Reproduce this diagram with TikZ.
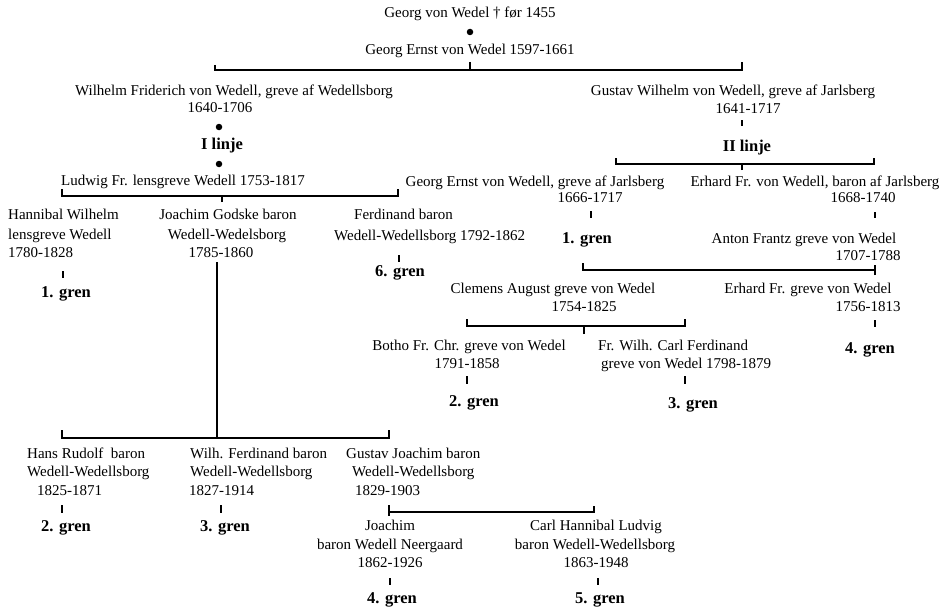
\documentclass[tikz,border=0pt]{standalone}
\usepackage{fontspec}
\setmainfont{Liberation Serif}
\begin{document}
\begin{tikzpicture}[x=1pt,y=-1pt,
  t/.style={inner sep=0pt, font=\fontsize{15}{18}\selectfont, text height=10pt, text depth=3pt},
  tb/.style={t, font=\fontsize{16.5}{19}\selectfont\bfseries},
  tw/.style={t, anchor=west},
  ln/.style={line width=1.1pt},
  dotm/.style={circle, fill=black, inner sep=0pt, minimum size=6.5pt}]
\useasboundingbox (0,0) rectangle (951,610);

% ---------- top ----------
\node[t] (top1) at (470,14) {Georg von Wedel † før 1455};
\node[dotm] (dot1) at (470,32) {};
\node[t] (top2) at (470,51) {Georg Ernst von Wedel 1597-1661};
\coordinate (b0m) at (470,70);
\coordinate (b0l) at (215,70);
\coordinate (b0r) at (742,70);
\draw[ln] (470,62) -- (b0m);
\draw[ln] ([yshift=5pt]b0l) -- (b0l) -- (b0r) -- ([yshift=8pt]b0r);

% ---------- I linje ----------
\node[t] (wf1) at (234,92) {Wilhelm Friderich von Wedell, greve af Wedellsborg};
\node[t] (wf2) at (220,109) {1640-1706};
\node[dotm] (dot2) at (219,127) {};
\node[tb] (l1) at (222,146) {I linje};
\node[dotm] (dot3) at (219,164) {};
\node[t] (lud) at (183,182) {Ludwig Fr. lensgreve Wedell 1753-1817};
\coordinate (b1l) at (62,196);
\coordinate (b1r) at (398,196);
\coordinate (b1m) at (222,196);
\draw[ln] ([yshift=7pt]b1l) -- (b1l) -- (b1r) -- ([yshift=7pt]b1r);
\draw[ln] ([yshift=-6pt]b1m) -- (b1m);

\node[tw] (han1) at (8,216) {Hannibal Wilhelm};
\node[tw] (han2) at (8,236) {lensgreve Wedell};
\node[tw] (han3) at (8,254) {1780-1828};
\node[tb] (g1) at (66,294) {1. gren};
\draw[ln] (63,271) -- (63,278);

\node[t] (jg1) at (228,216) {Joachim Godske baron};
\node[t] (jg2) at (227,236) {Wedell-Wedelsborg};
\node[t] (jg3) at (221,254) {1785-1860};

\node[tw] (fe1) at (354,216) {Ferdinand baron};
\node[tw] (fe2) at (334,237) {Wedell-Wedellsborg 1792-1862};
\node[tb] (g6) at (400,273) {6. gren};
\draw[ln] (399,255) -- (399,262);

\coordinate (vtop) at (217,262);
\coordinate (b2l) at (62,438);
\coordinate (b2m) at (217,438);
\coordinate (b2r) at (389,438);
\draw[ln] (vtop) -- (b2m);
\draw[ln] ([yshift=8pt]b2l) -- (b2l) -- (b2r) -- ([yshift=8pt]b2r);

\node[tw] (hr1) at (27,455) {Hans Rudolf\ \ baron};
\node[tw] (hr2) at (27,473) {Wedell-Wedellsborg};
\node[tw] (hr3) at (37,492) {1825-1871};
\node[tb] (g2b) at (66,528) {2. gren};
\draw[ln] (62,505) -- (62,513);

\node[tw] (wi1) at (190,455) {Wilh. Ferdinand baron};
\node[tw] (wi2) at (190,473) {Wedell-Wedellsborg};
\node[tw] (wi3) at (189,492) {1827-1914};
\node[tb] (g3b) at (225,528) {3. gren};
\draw[ln] (221,505) -- (221,513);

\node[tw] (gj1) at (346,455) {Gustav Joachim baron};
\node[tw] (gj2) at (352,473) {Wedell-Wedellsborg};
\node[tw] (gj3) at (355,492) {1829-1903};
\coordinate (b3l) at (389,512);
\coordinate (b3r) at (594,512);
\draw[ln] (389,505) -- (389,516);
\draw[ln] (b3l) -- (b3r) -- ([yshift=6pt]b3r);

\node[t] (jo1) at (390,527) {Joachim};
\node[t] (jo2) at (390,546) {baron Wedell Neergaard};
\node[t] (jo3) at (390,564) {1862-1926};
\node[tb] (g4b) at (392,600) {4. gren};
\draw[ln] (390,578) -- (390,585);

\node[t] (ca1) at (596,527) {Carl Hannibal Ludvig};
\node[t] (ca2) at (595,546) {baron Wedell-Wedellsborg};
\node[t] (ca3) at (596,564) {1863-1948};
\node[tb] (g5b) at (600,600) {5. gren};
\draw[ln] (598,578) -- (598,585);

% ---------- II linje ----------
\node[t] (gw1) at (733,92) {Gustav Wilhelm von Wedell, greve af Jarlsberg};
\node[t] (gw2) at (748,110) {1641-1717};
\draw[ln] (742,120) -- (742,126);
\node[tb] (l2) at (747,148) {II linje};
\coordinate (b4l) at (616,164);
\coordinate (b4m) at (742,164);
\coordinate (b4r) at (874,164);
\draw[ln] ([yshift=-6pt]b4m) -- (b4m);
\draw[ln] ([yshift=6pt]b4l) -- (b4l) -- (b4r) -- ([yshift=6pt]b4r);

\node[t] (ge1) at (535,183) {Georg Ernst von Wedell, greve af Jarlsberg};
\node[t] (ge2) at (590,199) {1666-1717};
\draw[ln] (591,211) -- (591,218);
\node[tb] (g1r) at (587,240) {1. gren};

\node[t] (er1) at (815,183) {Erhard Fr. von Wedell, baron af Jarlsberg};
\node[t] (er2) at (863,199) {1668-1740};
\draw[ln] (875,212) -- (875,218);
\node[t] (af1) at (804,240) {Anton Frantz greve von Wedel};
\node[t] (af2) at (868,257) {1707-1788};
\coordinate (b5l) at (583,270);
\coordinate (b5r) at (875,270);
\draw[ln] ([yshift=7pt]b5l) -- (b5l) -- (b5r);
\draw[ln] ([yshift=-5pt]b5r) -- ([yshift=5pt]b5r);

\node[t] (cl1) at (553,290) {Clemens August greve von Wedel};
\node[t] (cl2) at (584,308) {1754-1825};
\coordinate (b6l) at (467,326);
\coordinate (b6m) at (584,326);
\coordinate (b6r) at (685,326);
\draw[ln] ([yshift=-8pt]b6m) -- (b6m);
\draw[ln] ([yshift=7pt]b6l) -- (b6l) -- (b6r) -- ([yshift=7pt]b6r);

\node[t] (ef1) at (808,290) {Erhard Fr. greve von Wedel};
\node[t] (ef2) at (868,308) {1756-1813};
\draw[ln] (875,320) -- (875,327);
\node[tb] (g4r) at (870,350) {4. gren};

\node[t] (bo1) at (469,347) {Botho Fr. Chr. greve von Wedel};
\node[t] (bo2) at (467,365) {1791-1858};
\draw[ln] (467,376) -- (467,384);
\node[tb] (g2r) at (474,403) {2. gren};

\node[tw] (fw1) at (598,347) {Fr. Wilh. Carl Ferdinand};
\node[tw] (fw2) at (601,365) {greve von Wedel 1798-1879};
\draw[ln] (685,376) -- (685,384);
\node[tb] (g3r) at (693,405) {3. gren};
\end{tikzpicture}
\end{document}
